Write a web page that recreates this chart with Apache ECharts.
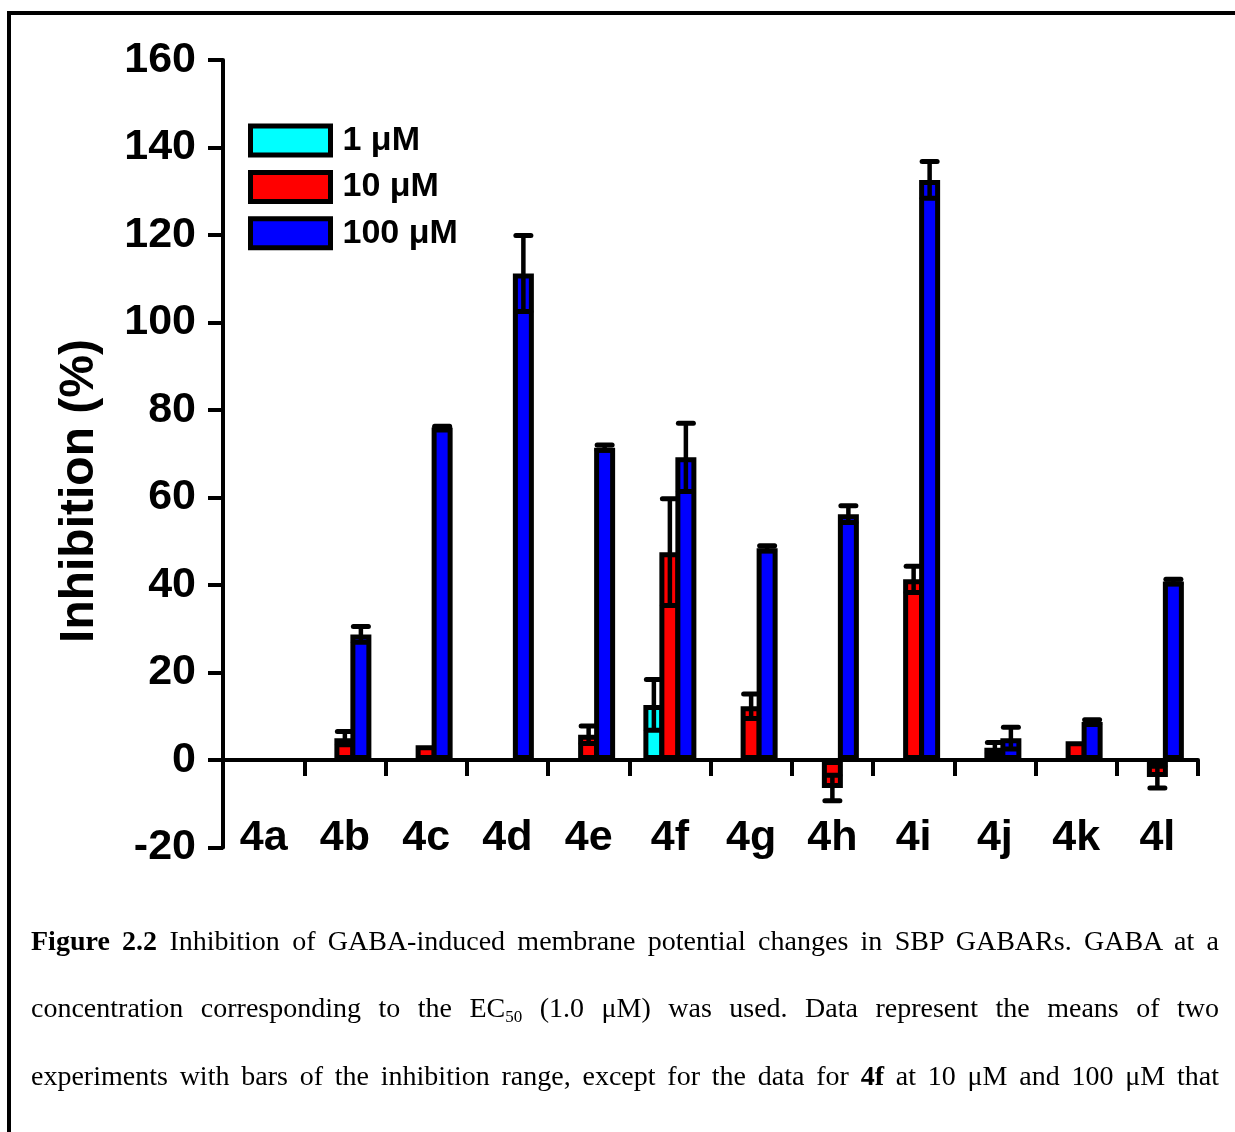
<!DOCTYPE html>
<html>
<head>
<meta charset="utf-8">
<script src="https://cdn.jsdelivr.net/npm/echarts@6/dist/echarts.min.js"></script>
<style>
  html, body { margin: 0; padding: 0; background: #fff; }
  #wrap { position: relative; width: 1235px; height: 1132px; overflow: hidden; }
  #chart { position: absolute; left: 0; top: 0; width: 1235px; height: 1132px; }
  .cap {
    position: absolute; left: 31px; width: 1188px;
    font-family: 'Liberation Serif', 'Times New Roman', serif;
    font-size: 28px; line-height: 30px; color: #000;
    text-align: justify; text-align-last: justify; white-space: nowrap;
  }
  .cap sub { font-size: 17px; line-height: 0; vertical-align: -5px; }
</style>
</head>
<body>
<div id="wrap">
  <div id="chart"></div>
  <div class="cap" style="top:926px"><b>Figure 2.2</b> Inhibition of GABA-induced membrane potential changes in SBP GABARs. GABA at a</div>
  <div class="cap" style="top:993px">concentration corresponding to the EC<sub>50</sub> (1.0 μM) was used. Data represent the means of two</div>
  <div class="cap" style="top:1061px">experiments with bars of the inhibition range, except for the data for <b>4f</b> at 10 μM and 100 μM that</div>
</div>
<script>
// Compounds tested
const categories = ['4a', '4b', '4c', '4d', '4e', '4f', '4g', '4h', '4i', '4j', '4k', '4l'];

// Concentrations (legend names)
const seriesNames = ['1 μM', '10 μM', '100 μM'];

// Mean inhibition (%) per compound
const inhib1uM   = [null, null, null, null, null, 12.6, null, null, null, null, null, null];
const inhib10uM  = [null, 5.0, 3.4, null, 5.8, 47.5, 12.3, -6.4, 41.3, 2.8, 4.3, -3.9];
const inhib100uM = [null, 28.7, 76.0, 111.2, 71.4, 69.2, 48.4, 56.2, 132.6, 5.0, 8.7, 40.8];

// Half-range of the two experiments (error bars)
const err1uM   = [0, 0, 0, 0, 0, 5.8, 0, 0, 0, 0, 0, 0];
const err10uM  = [0, 1.5, 0, 0, 2.0, 12.2, 2.8, 2.9, 3.0, 1.2, 0, 2.5];
const err100uM = [0, 1.8, 0.3, 8.7, 0.6, 7.8, 0.6, 1.9, 4.2, 2.5, 0.5, 0.5];

// Y axis ticks
const yMin = -20, yMax = 160, yStep = 20;

const colors = ['#00FFFF', '#FF0000', '#0000FF'];
const BAR_W = 21;          // bar width including its outline
const BAR_BORDER = 5;      // outline width; neighbouring bars share one outline
const BAR_PITCH = BAR_W - BAR_BORDER;
const FONT = "'Liberation Sans', Arial, sans-serif";

function barSeries(name, values, color) {
  return {
    name: name,
    type: 'bar',
    xAxisIndex: 0,
    data: values,
    barWidth: BAR_W,
    barGap: (-100 * BAR_BORDER / BAR_W).toFixed(2) + '%',
    itemStyle: { color: color, borderColor: '#000', borderWidth: BAR_BORDER },
    emphasis: { disabled: true },
    z: 2
  };
}

function errorSeries(slot, values, errs) {
  const data = [];
  values.forEach(function (v, i) {
    if (v !== null && errs[i] > 0) data.push([i, v - errs[i], v + errs[i]]);
  });
  return {
    type: 'custom',
    xAxisIndex: 0,
    data: data,
    encode: { x: 0, y: [1, 2] },
    z: 5,
    silent: true,
    renderItem: function (params, api) {
      const i = api.value(0);
      const lo = api.coord([i, api.value(1)]);
      const hi = api.coord([i, api.value(2)]);
      const cx = lo[0] + (slot - 1) * BAR_PITCH;
      const half = 7.5;
      const st = { stroke: '#000', lineWidth: 5, lineCap: 'round' };
      return {
        type: 'group',
        children: [
          { type: 'line', shape: { x1: cx, y1: hi[1], x2: cx, y2: lo[1] }, style: { stroke: '#000', lineWidth: 4.5 } },
          { type: 'line', shape: { x1: cx - half, y1: hi[1], x2: cx + half, y2: hi[1] }, style: st },
          { type: 'line', shape: { x1: cx - half, y1: lo[1], x2: cx + half, y2: lo[1] }, style: st }
        ]
      };
    }
  };
}

const chart = echarts.init(document.getElementById('chart'), null, { renderer: 'canvas' });

chart.setOption({
  animation: false,
  backgroundColor: '#fff',
  grid: { left: 223, right: 37, top: 60, bottom: 284.5, containLabel: false },
  legend: {
    data: seriesNames,
    orient: 'vertical',
    left: 248,
    top: 123.5,
    padding: 0,
    itemGap: 12.4,
    itemWidth: 80,
    itemHeight: 29,
    icon: 'rect',
    selectedMode: false,
    itemStyle: { borderColor: '#000', borderWidth: 5 },
    textStyle: {
      fontFamily: FONT, fontWeight: 'bold', fontSize: 34, color: '#000',
      padding: [0, 0, 0, 7]
    }
  },
  xAxis: [
    {
      // zero line with category boundary ticks
      type: 'category',
      data: categories,
      axisLine: { onZero: true, lineStyle: { color: '#000', width: 4 } },
      axisTick: { show: true, alignWithLabel: false, length: 16, lineStyle: { color: '#000', width: 4 } },
      axisLabel: { show: false },
      splitLine: { show: false }
    },
    {
      // compound names along the bottom of the plot
      type: 'category',
      data: categories,
      position: 'bottom',
      axisLine: { show: false, onZero: false },
      axisTick: { show: false },
      axisLabel: {
        fontFamily: FONT, fontWeight: 'bold', fontSize: 43, color: '#000', margin: -31, interval: 0
      },
      splitLine: { show: false }
    }
  ],
  yAxis: {
    type: 'value',
    min: yMin,
    max: yMax,
    interval: yStep,
    axisLine: { show: true, lineStyle: { color: '#000', width: 4 } },
    axisTick: { show: true, length: 15, lineStyle: { color: '#000', width: 4 } },
    axisLabel: {
      fontFamily: FONT, fontWeight: 'bold', fontSize: 43, color: '#000', margin: 27
    },
    splitLine: { show: false }
  },
  graphic: [
    {
      type: 'polyline',
      shape: { points: [[9, 1140], [9, 13], [1240, 13]] },
      style: { stroke: '#000', lineWidth: 4, fill: null },
      silent: true
    },
    {
      type: 'text',
      x: 80,
      y: 491,
      rotation: Math.PI / 2,
      style: {
        text: 'Inhibition (%)',
        fontFamily: FONT, fontWeight: 'bold', fontSize: 48, fill: '#000',
        align: 'center', verticalAlign: 'middle'
      },
      silent: true
    }
  ],
  series: [
    barSeries(seriesNames[0], inhib1uM, colors[0]),
    barSeries(seriesNames[1], inhib10uM, colors[1]),
    barSeries(seriesNames[2], inhib100uM, colors[2]),
    errorSeries(0, inhib1uM, err1uM),
    errorSeries(1, inhib10uM, err10uM),
    errorSeries(2, inhib100uM, err100uM)
  ]
});
</script>
</body>
</html>
